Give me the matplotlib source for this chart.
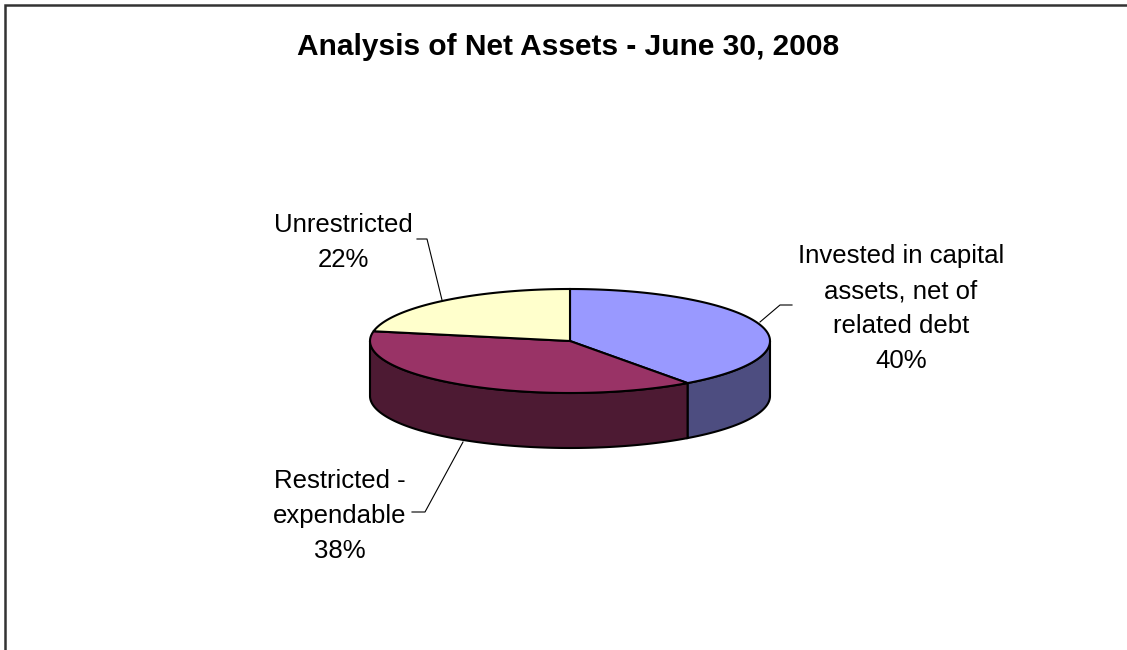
import numpy as np
import matplotlib
matplotlib.use("Agg")
import matplotlib.pyplot as plt
from matplotlib.patches import Polygon

TITLE = "Analysis of Net Assets - June 30, 2008"

# net asset components, percent of total (clockwise from 12 o'clock)
categories = ["Invested in capital\nassets, net of\nrelated debt",
              "Restricted -\nexpendable",
              "Unrestricted"]
shares = [40, 38, 22]

top_colors = ["#9999FF", "#993366", "#FFFFCC"]
side_colors = ["#4D4D80", "#4D1A33", "#80806A"]

# pie geometry in pixels
CX, CY = 570, 341
RX, RY = 200, 52
DEPTH = 55

fig = plt.figure(figsize=(11.27, 6.5), dpi=100)
ax = fig.add_axes([0, 0, 1, 1])
ax.set_xlim(0, 1127)
ax.set_ylim(650, 0)
ax.axis("off")

def ellipse_pts(t0, t1, n=120):
    t = np.radians(np.linspace(t0, t1, n))
    return CX + RX * np.cos(t), CY - RY * np.sin(t)

# slice angles, going clockwise from the top
fracs = np.array(shares) / sum(shares)
ends = 90 - 360 * np.cumsum(fracs)
starts = np.concatenate([[90], ends[:-1]])

# side walls first (only the front half, angles -180..0, is visible)
for s, e, col in zip(starts, ends, side_colors):
    lo = max(e, -180)
    hi = min(s, 0)
    if lo >= hi:
        continue
    x, y = ellipse_pts(hi, lo)
    pts = np.column_stack([np.concatenate([x, x[::-1]]),
                           np.concatenate([y, y[::-1] + DEPTH])])
    ax.add_patch(Polygon(pts, closed=True, facecolor=col,
                         edgecolor="black", linewidth=1.5, zorder=2))

# tops
for s, e, col in zip(starts, ends, top_colors):
    x, y = ellipse_pts(s, e)
    pts = np.column_stack([np.concatenate([[CX], x]),
                           np.concatenate([[CY], y])])
    ax.add_patch(Polygon(pts, closed=True, facecolor=col,
                         edgecolor="black", linewidth=1.5, zorder=3))

# data labels: (center x, first baseline) and leader lines
label_pos = [(901, 263), (340, 488), (343, 232)]
leaders = [[(760, 322), (780, 305), (792, 305)],
           [(463, 442), (425, 512), (412, 512)],
           [(442, 300), (427, 239), (417, 239)]]
LINE_STEP = 35

for name, v, (lx, ly), ld in zip(categories, shares, label_pos, leaders):
    lines = name.split("\n") + [f"{v}%"]
    for k, ln in enumerate(lines):
        ax.text(lx, ly + k * LINE_STEP, ln, ha="center", va="baseline",
                fontsize=18.5, family="Liberation Sans", color="black")
    xs, ys = zip(*ld)
    ax.plot(xs, ys, color="black", linewidth=0.8, zorder=4)

ax.text(568, 47, TITLE, ha="center", va="center", fontsize=21.5,
        fontweight="bold", family="Liberation Sans", color="black")

# chart frame (only top and left edges fall inside the image)
ax.plot([5, 5, 1127], [650, 5, 5], color="#333333", linewidth=1.8,
        solid_joinstyle="miter", zorder=5)

fig.savefig("out.png", dpi=100)
